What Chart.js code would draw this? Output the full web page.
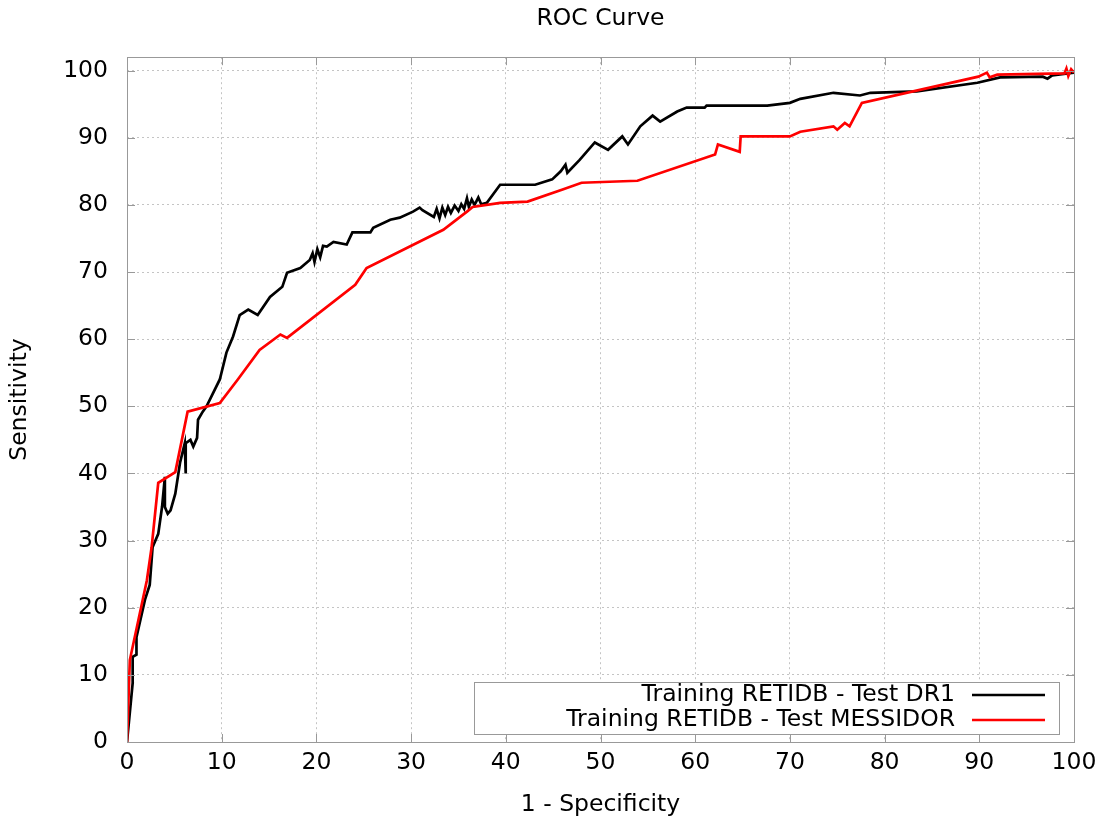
<!DOCTYPE html>
<html>
<head>
<meta charset="utf-8">
<title>ROC Curve</title>
<script src="https://cdn.jsdelivr.net/npm/chart.js@4.4.1/dist/chart.umd.min.js"></script>
<style>
  html, body { margin: 0; padding: 0; background: #fff; }
  #wrap { width: 1104px; height: 823px; }
</style>
</head>
<body>
<div id="wrap"><canvas id="roc"></canvas></div>
<script>
// Training RETIDB - Test DR1 (1 - specificity, sensitivity)
const dr1Fpr = [0, 0.6, 0.6, 1.0, 1.0, 1.9, 2.4, 2.7, 3.3, 3.7, 4.0, 4.0, 4.3, 4.6, 5.1, 5.6, 6.1, 6.2, 6.2, 6.7, 7.0, 7.4, 7.5, 8.0, 8.4, 9.8,
  10.5, 11.2, 11.9, 12.8, 13.8, 15.1, 16.4, 16.9, 18.3, 19.3, 19.6, 19.8, 20.1, 20.4, 20.7, 21.1, 21.8, 23.2, 23.8, 25.7, 26.0, 27.8, 28.8,
  30.2, 30.9, 31.2, 32.4, 32.7, 33.0, 33.3, 33.6, 33.9, 34.2, 34.6, 35.0, 35.3, 35.6, 35.9, 36.1, 36.4, 36.7, 37.1, 37.4, 38.0, 39.4,
  43.1, 44.9, 45.8, 46.3, 46.5, 47.8, 49.4, 50.8, 52.3, 52.9, 54.2, 55.5, 56.3, 58.1, 59.1, 61.0, 61.2, 67.6, 70.0, 71.1, 74.6, 77.4,
  78.5, 83.4, 89.8, 92.2, 96.7, 97.2, 97.7, 99.9, 100];
const dr1Tpr = [0, 8.8, 12.7, 13.0, 15.6, 21.2, 23.4, 29.0, 31.0, 35.0, 39.5, 35.0, 34.0, 34.5, 37.0, 41.6, 44.5, 40.0, 44.5, 45.0, 44.0, 45.3, 48.0, 49.2, 50.0, 54.0,
  58.0, 60.4, 63.6, 64.4, 63.6, 66.3, 67.8, 69.9, 70.6, 71.8, 72.8, 71.5, 73.4, 72.2, 73.9, 73.8, 74.5, 74.1, 75.9, 75.9, 76.6, 77.8, 78.1,
  79.0, 79.6, 79.2, 78.2, 79.4, 78.0, 79.6, 78.5, 79.7, 78.8, 79.9, 79.1, 80.1, 79.4, 81.0, 79.7, 80.8, 80.0, 81.1, 80.1, 80.3, 83.0,
  83.0, 83.8, 85.0, 86.0, 84.8, 86.7, 89.3, 88.2, 90.2, 89.0, 91.7, 93.3, 92.4, 93.9, 94.5, 94.5, 94.8, 94.8, 95.2, 95.8, 96.7, 96.3,
  96.7, 96.9, 98.2, 99.0, 99.1, 98.8, 99.3, 99.7, 100];

// Training RETIDB - Test MESSIDOR
const messFpr = [0, 0.3, 2.1, 2.6, 3.3, 5.1, 6.4, 9.8, 11.7, 14.0, 16.2, 16.9, 24.1, 25.3, 33.4, 35.9, 36.5, 39.4, 42.3, 46.0, 48.0,
  53.9, 62.1, 62.4, 64.7, 64.8, 70.0, 71.1, 74.6, 75.0, 75.8, 76.3, 77.6, 89.9, 90.8, 91.1, 91.9, 99.0, 99.2, 99.4, 99.7, 100];
const messTpr = [0, 12.2, 24.1, 29.0, 38.6, 40.2, 49.2, 50.5, 54.0, 58.4, 60.7, 60.2, 68.1, 70.6, 76.3, 79.0, 79.7, 80.3, 80.5, 82.3, 83.3,
  83.6, 87.5, 89.0, 87.9, 90.2, 90.2, 90.9, 91.7, 91.2, 92.2, 91.7, 95.2, 99.1, 99.7, 99.0, 99.4, 99.6, 100.3, 99.2, 100.2, 99.7];

const seriesLabels = ['Training RETIDB - Test DR1', 'Training RETIDB - Test MESSIDOR'];
const seriesColors = ['#000000', '#ff0000'];

const toPoints = (xs, ys) => xs.map((x, i) => ({ x: x, y: ys[i] }));

const FONT = 'DejaVu Sans';
const FSIZE = 23.5;
Chart.defaults.font.family = FONT;
Chart.defaults.color = '#000';

// gnuplot style frame with inward ticks on all four sides
const framePlugin = {
  id: 'frame',
  afterDatasetsDraw(chart) {
    const { ctx, chartArea: a, scales } = chart;
    ctx.save();
    ctx.strokeStyle = '#999';
    ctx.lineWidth = 1;
    ctx.beginPath();
    scales.x.ticks.forEach(t => {
      const px = Math.round(scales.x.getPixelForValue(t.value)) + 0.5;
      ctx.moveTo(px, a.bottom); ctx.lineTo(px, a.bottom - 8);
      ctx.moveTo(px, a.top); ctx.lineTo(px, a.top + 8);
    });
    scales.y.ticks.forEach(t => {
      const py = Math.round(scales.y.getPixelForValue(t.value)) + 0.5;
      ctx.moveTo(a.left, py); ctx.lineTo(a.left + 8, py);
      ctx.moveTo(a.right, py); ctx.lineTo(a.right - 8, py);
    });
    ctx.stroke();
    ctx.strokeRect(Math.round(a.left) + 0.5, Math.round(a.top) + 0.5, Math.round(a.width), Math.round(a.height));
    ctx.restore();
  },
  afterDraw(chart) {
    // key box in the lower right corner
    const { ctx, chartArea: a } = chart;
    const right = a.right - 15, bottom = a.bottom - 8;
    const boxW = 585, boxH = 52;
    ctx.save();
    ctx.fillStyle = '#fff';
    ctx.fillRect(right - boxW, bottom - boxH, boxW, boxH);
    ctx.strokeStyle = '#999';
    ctx.lineWidth = 1;
    ctx.strokeRect(Math.round(right - boxW) + 0.5, Math.round(bottom - boxH) + 0.5, boxW, boxH);
    ctx.font = FSIZE + 'px "' + FONT + '"';
    ctx.textAlign = 'right';
    ctx.textBaseline = 'middle';
    chart.data.datasets.forEach((ds, i) => {
      const y = bottom - boxH + 13 + i * 25;
      ctx.fillStyle = '#000';
      ctx.fillText(ds.label, right - 104, y);
      ctx.strokeStyle = ds.borderColor;
      ctx.lineWidth = 2.7;
      ctx.beginPath();
      ctx.moveTo(right - 87, y);
      ctx.lineTo(right - 14, y);
      ctx.stroke();
    });
    ctx.restore();
  }
};

new Chart(document.getElementById('roc'), {
  type: 'scatter',
  data: {
    datasets: [
      { label: seriesLabels[0], data: toPoints(dr1Fpr, dr1Tpr), borderColor: seriesColors[0], backgroundColor: seriesColors[0], order: 1 },
      { label: seriesLabels[1], data: toPoints(messFpr, messTpr), borderColor: seriesColors[1], backgroundColor: seriesColors[1], order: 0 }
    ]
  },
  options: {
    responsive: true,
    maintainAspectRatio: false,
    animation: false,
    showLine: true,
    elements: {
      point: { radius: 0, hoverRadius: 0 },
      line: { borderWidth: 2.7, tension: 0, fill: false }
    },
    layout: { padding: { left: 0, right: 30, top: 0, bottom: 0 } },
    plugins: {
      legend: { display: false },
      tooltip: { enabled: false },
      title: {
        display: true,
        fullSize: false,
        text: 'ROC Curve',
        color: '#000',
        font: { family: FONT, size: FSIZE, weight: 'normal' },
        padding: { top: 5, bottom: 24 }
      }
    },
    scales: {
      x: {
        type: 'linear',
        min: 0,
        max: 100,
        afterFit: (s) => { s.height = 81; },
        ticks: { stepSize: 10, padding: 7, color: '#000', font: { size: FSIZE } },
        grid: { color: '#c4c4c4', drawTicks: false },
        border: { display: false, dash: [2, 3] },
        title: { display: true, text: '1 - Specificity', color: '#000', font: { size: FSIZE }, padding: { top: 0, bottom: 4 } }
      },
      y: {
        type: 'linear',
        min: 0,
        max: 102,
        afterFit: (s) => { s.width = 127; },
        ticks: { stepSize: 10, includeBounds: false, padding: 19, color: '#000', font: { size: FSIZE } },
        grid: { color: '#c4c4c4', drawTicks: false },
        border: { display: false, dash: [2, 3] },
        title: { display: true, text: 'Sensitivity', color: '#000', font: { size: FSIZE }, padding: { top: 6, bottom: 0 } }
      }
    }
  },
  plugins: [framePlugin]
});
</script>
</body>
</html>
